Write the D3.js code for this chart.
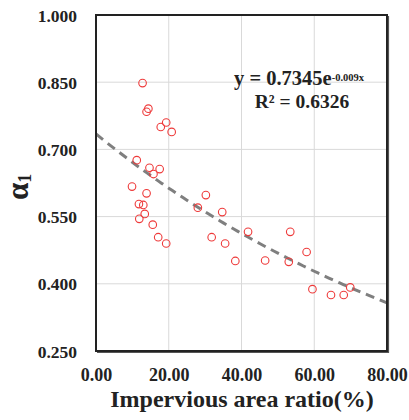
<!DOCTYPE html>
<html>
<head>
<meta charset="utf-8">
<script src="https://cdn.jsdelivr.net/npm/d3@7/dist/d3.min.js"></script>
<style>
  html, body { margin: 0; padding: 0; background: #fff; }
  svg text { font-family: "Liberation Serif", "Times New Roman", serif; font-weight: bold; fill: #222; }
</style>
</head>
<body>
<svg id="chart" width="409" height="420"></svg>
<script>
// Impervious area ratio (%) of each catchment
const imperviousRatio = [
  12.8, 14.4, 13.9, 19.3, 17.8, 20.8, 11.2, 14.7, 17.5, 15.8,
  9.9, 13.9, 11.8, 13.0, 13.4, 11.9, 15.6, 17.1, 19.3,
  30.2, 28.0, 31.8, 34.7, 35.5, 41.8, 38.3, 53.4, 46.5, 53.0,
  57.9, 59.5, 64.6, 68.1, 69.9
];
// Fitted alpha_1 for each catchment
const alpha1 = [
  0.848, 0.791, 0.784, 0.760, 0.750, 0.739, 0.676, 0.659, 0.656, 0.645,
  0.617, 0.602, 0.578, 0.576, 0.556, 0.545, 0.532, 0.504, 0.490,
  0.598, 0.570, 0.504, 0.560, 0.490, 0.516, 0.451, 0.516, 0.452, 0.449,
  0.471, 0.388, 0.375, 0.375, 0.392
];
const xTicks = [0, 20, 40, 60, 80];
const yTicks = [0.25, 0.40, 0.55, 0.70, 0.85, 1.00];
// Exponential trend: y = a * exp(b * x)
const trendA = 0.7345;
const trendB = -0.009;

const svg = d3.select("#chart");
const plotL = 96, plotR = 387, plotT = 15, plotB = 351;

const x = d3.scaleLinear().domain([0, 80]).range([plotL, plotR]);
const y = d3.scaleLinear().domain([0.25, 1.0]).range([plotB, plotT]);

// Grid lines
const grid = svg.append("g");
grid.selectAll("line.vx").data(xTicks.slice(1, -1)).join("line")
  .attr("x1", d => x(d)).attr("x2", d => x(d))
  .attr("y1", plotT).attr("y2", plotB)
  .attr("stroke", "#d9d9d9").attr("stroke-width", 1);
grid.selectAll("line.hy").data(yTicks.slice(1, -1)).join("line")
  .attr("x1", plotL).attr("x2", plotR)
  .attr("y1", d => y(d)).attr("y2", d => y(d))
  .attr("stroke", "#d9d9d9").attr("stroke-width", 1);

// Trend line
const trendX = d3.range(0, 80.01, 1);
const line = d3.line().x(d => x(d)).y(d => y(trendA * Math.exp(trendB * d)));
svg.append("path").datum(trendX)
  .attr("d", line)
  .attr("fill", "none")
  .attr("stroke", "#7f7f7f")
  .attr("stroke-width", 3)
  .attr("stroke-dasharray", "9,6");

// Observations
svg.append("g").selectAll("circle")
  .data(imperviousRatio.map((v, i) => [v, alpha1[i]]))
  .join("circle")
  .attr("cx", d => x(d[0]))
  .attr("cy", d => y(d[1]))
  .attr("r", 3.8)
  .attr("fill", "none")
  .attr("stroke", "#ee3a3a")
  .attr("stroke-width", 1.1);

// Plot frame with a slight shadow on the right and bottom
svg.append("rect")
  .attr("x", plotL).attr("y", plotT)
  .attr("width", plotR - plotL).attr("height", plotB - plotT)
  .attr("fill", "none").attr("stroke", "#222").attr("stroke-width", 2);
svg.append("path")
  .attr("d", `M${plotR + 1.5},${plotT + 1} V${plotB + 1.5} H${plotL + 1}`)
  .attr("fill", "none").attr("stroke", "#555").attr("stroke-width", 1.2);

// Axes
const xAxis = d3.axisBottom(x).tickValues(xTicks).tickSize(0).tickPadding(0)
  .tickFormat(d3.format(".2f"));
const gx = svg.append("g").attr("transform", `translate(0,${plotB})`).call(xAxis);
gx.select(".domain").remove();
gx.selectAll("text").attr("y", 30).attr("dy", 0).attr("font-size", 18)
  .attr("font-family", "Liberation Serif").attr("font-weight", "bold").attr("fill", "#222");

const yAxis = d3.axisLeft(y).tickValues(yTicks).tickSize(0).tickPadding(0)
  .tickFormat(d3.format(".3f"));
const gy = svg.append("g").attr("transform", `translate(${plotL},0)`).call(yAxis);
gy.select(".domain").remove();
gy.selectAll("text").attr("x", -19).attr("dy", "0.35em").attr("font-size", 17.5)
  .attr("font-family", "Liberation Serif").attr("font-weight", "bold").attr("fill", "#222");

// Axis titles
svg.append("text")
  .attr("x", 242).attr("y", 407)
  .attr("text-anchor", "middle").attr("font-size", 24)
  .text("Impervious area ratio(%)");

const yt = svg.append("text")
  .attr("transform", "translate(28,200) rotate(-90)")
  .attr("text-anchor", "start");
yt.append("tspan").attr("font-size", 31).text("α");
yt.append("tspan").attr("font-size", 18).attr("dy", 3).text("1");

// Trend equation
const eq = svg.append("text").attr("x", 234).attr("y", 85).attr("font-size", 20.5);
eq.append("tspan").text("y = 0.7345e");
eq.append("tspan").attr("font-size", 10.5).attr("dy", -4).text("-0.009x");
svg.append("text").attr("x", 302).attr("y", 108).attr("text-anchor", "middle")
  .attr("font-size", 19.5).text("R² = 0.6326");
</script>
</body>
</html>
